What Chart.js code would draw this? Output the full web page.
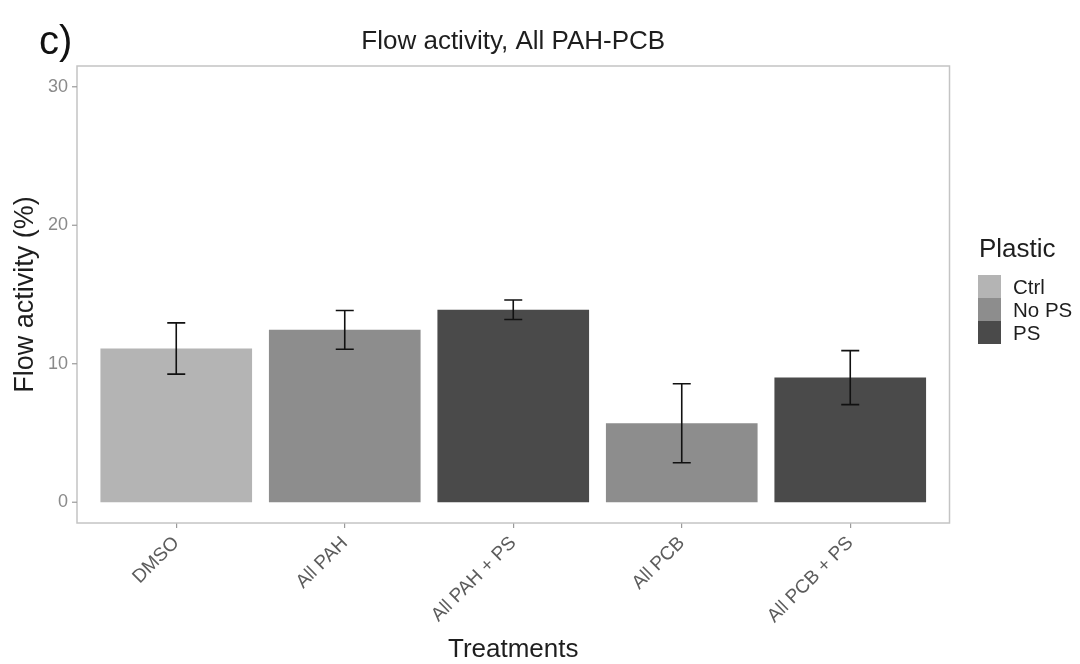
<!DOCTYPE html>
<html>
<head>
<meta charset="utf-8">
<script src="https://cdn.jsdelivr.net/npm/chart.js@4/dist/chart.umd.min.js"></script>
<style>
  html, body { margin: 0; padding: 0; background: #ffffff; }
  #wrap { width: 1080px; height: 664px; }
</style>
</head>
<body>
<div id="wrap"><canvas id="chart" width="1080" height="664"></canvas></div>
<script>
// Treatments on the x axis and the plastic group each bar belongs to
const categories = ['DMSO', 'All PAH', 'All PAH + PS', 'All PCB', 'All PCB + PS'];
const plasticLevels = ['Ctrl', 'No PS', 'PS'];
const plasticOf = ['Ctrl', 'No PS', 'PS', 'No PS', 'PS'];

// Mean flow activity (%) and error bar half-widths per treatment
const meanActivity = [11.1, 12.45, 13.9, 5.7, 9.0];
const errActivity = [1.85, 1.4, 0.7, 2.85, 1.95];

// Y axis tick values
const yTicks = [0, 10, 20, 30];

// Fill colours for the plastic groups
const groupColors = { 'Ctrl': '#b4b4b4', 'No PS': '#8d8d8d', 'PS': '#4a4a4a' };

const FONT = "'Liberation Sans', Arial, Helvetica, sans-serif";
const PANEL_PAD = 15; // extra space between first/last bar slot and panel border

// One dataset per plastic group; a bar only appears for treatments in that group
const datasets = plasticLevels.map(level => ({
  label: level,
  data: meanActivity.map((v, i) => plasticOf[i] === level ? v : null),
  backgroundColor: groupColors[level],
  borderWidth: 0,
  barPercentage: 0.9,
  categoryPercentage: 1.0
}));

const decorations = {
  id: 'decorations',
  beforeDraw(chart) {
    const ctx = chart.ctx;
    ctx.save();
    ctx.fillStyle = '#ffffff';
    ctx.fillRect(0, 0, chart.width, chart.height);
    ctx.restore();
  },
  afterDatasetsDraw(chart) {
    const ctx = chart.ctx;
    const x = chart.scales.x, y = chart.scales.y;
    // error bars
    ctx.save();
    ctx.strokeStyle = '#111111';
    ctx.lineWidth = 1.6;
    meanActivity.forEach((m, i) => {
      const px = x.getPixelForValue(i);
      const hi = y.getPixelForValue(m + errActivity[i]);
      const lo = y.getPixelForValue(m - errActivity[i]);
      const cap = 9;
      ctx.beginPath();
      ctx.moveTo(px, hi); ctx.lineTo(px, lo);
      ctx.moveTo(px - cap, hi); ctx.lineTo(px + cap, hi);
      ctx.moveTo(px - cap, lo); ctx.lineTo(px + cap, lo);
      ctx.stroke();
    });
    ctx.restore();
  },
  afterDraw(chart) {
    const ctx = chart.ctx;
    const ca = chart.chartArea;
    const y = chart.scales.y;
    const left = ca.left - PANEL_PAD, right = ca.right + PANEL_PAD;
    ctx.save();
    // panel border
    ctx.strokeStyle = '#c4c4c4';
    ctx.lineWidth = 1.5;
    ctx.strokeRect(left, ca.top, right - left, ca.bottom - ca.top);
    // y tick marks on the panel edge
    ctx.strokeStyle = '#9a9a9a';
    ctx.lineWidth = 1.2;
    yTicks.forEach(v => {
      const py = y.getPixelForValue(v);
      ctx.beginPath();
      ctx.moveTo(left - 5, py); ctx.lineTo(left, py);
      ctx.stroke();
    });
    // panel label
    ctx.fillStyle = '#111111';
    ctx.textAlign = 'left';
    ctx.textBaseline = 'alphabetic';
    ctx.font = '40px ' + FONT;
    ctx.fillText('c)', 39, 54);
    // plot title
    ctx.fillStyle = '#1e1e1e';
    ctx.textAlign = 'center';
    ctx.textBaseline = 'middle';
    ctx.font = '26px ' + FONT;
    ctx.fillText('Flow activity, All PAH-PCB', (left + right) / 2, 42);
    // legend
    ctx.textAlign = 'left';
    ctx.fillStyle = '#1e1e1e';
    ctx.font = '26px ' + FONT;
    ctx.fillText('Plastic', 979, 250);
    const key = 23, kx = 978, ky = 275;
    ctx.font = '20.5px ' + FONT;
    plasticLevels.forEach((level, k) => {
      ctx.fillStyle = groupColors[level];
      ctx.fillRect(kx, ky + k * key, key, key);
      ctx.fillStyle = '#1e1e1e';
      ctx.fillText(level, 1013, ky + k * key + key / 2 + 2);
    });
    ctx.restore();
  }
};

new Chart(document.getElementById('chart'), {
  type: 'bar',
  data: { labels: categories, datasets },
  options: {
    responsive: false,
    devicePixelRatio: 1,
    animation: false,
    layout: { padding: { left: 0, right: 145.5, top: 66, bottom: 0 } },
    plugins: {
      legend: { display: false },
      title: { display: false },
      tooltip: { enabled: false }
    },
    scales: {
      x: {
        stacked: true,
        offset: true,
        border: { display: false },
        grid: { display: true, drawOnChartArea: false, drawTicks: true, tickLength: 5, offset: false, color: '#9a9a9a', lineWidth: 1.2 },
        ticks: {
          autoSkip: false,
          minRotation: 45,
          maxRotation: 45,
          padding: 4,
          color: '#5c5c5c',
          font: { family: FONT, size: 19 }
        },
        title: {
          display: true,
          text: 'Treatments',
          color: '#1e1e1e',
          font: { family: FONT, size: 26, lineHeight: 1 },
          padding: { top: 0, bottom: 1 }
        },
        afterFit(scale) { scale.height = 141; }
      },
      y: {
        stacked: true,
        min: -1.5,
        max: 31.5,
        border: { display: false },
        grid: { display: false, drawTicks: false, tickLength: 0 },
        afterBuildTicks(scale) { scale.ticks = yTicks.map(v => ({ value: v })); },
        ticks: {
          padding: 24,
          color: '#8a8a8a',
          font: { family: FONT, size: 18 }
        },
        title: {
          display: true,
          text: 'Flow activity (%)',
          color: '#1e1e1e',
          font: { family: FONT, size: 27, lineHeight: 1.2 },
          padding: { top: 9, bottom: 0 }
        },
        afterFit(scale) { scale.width = 92; }
      }
    }
  },
  plugins: [decorations]
});
</script>
</body>
</html>
